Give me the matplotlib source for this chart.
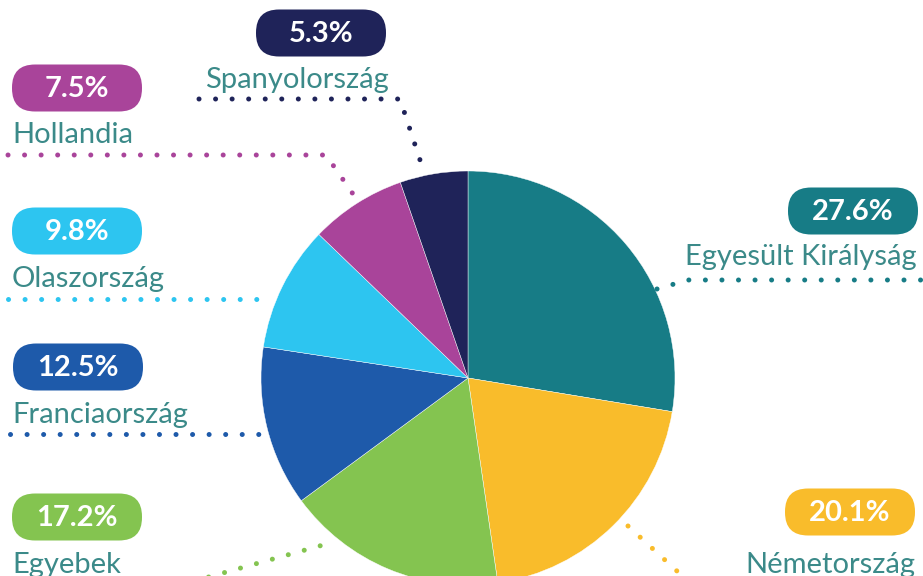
import matplotlib.pyplot as plt
from matplotlib.patches import FancyBboxPatch

# data
countries = ["Egyesült Királyság", "Németország", "Egyebek", "Franciaország",
             "Olaszország", "Hollandia", "Spanyolország"]
shares = [27.6, 20.1, 17.2, 12.5, 9.8, 7.5, 5.3]
colors = ["#177C86", "#F9BC2B", "#84C450", "#1E5AAA", "#2DC5F0", "#A9449A", "#1F2359"]

TEXT_COL = "#3B8A89"
W, H = 923, 576

# layout, in pixels from the top-left corner
# pill centre, label anchor (x, baseline), label alignment, leader path
layout = {
    "Egyesült Királyság": ((853, 211), (917, 265), "right",
                           [(657, 289), (688, 280), (921, 280)]),
    "Németország": ((850, 512), (915, 573), "right",
                    [(628, 526), (678, 572)]),
    "Egyebek": ((77, 517), (12, 573), "left",
                [(205, 578), (323, 545)]),
    "Franciaország": ((78, 367), (12, 423), "left",
                      [(10, 434), (262, 434)]),
    "Olaszország": ((77, 231), (12, 287), "left",
                    [(8, 299), (261, 299)]),
    "Hollandia": ((77, 88), (12, 143), "left",
                  [(8, 155), (326, 155), (353, 194)]),
    "Spanyolország": ((321, 33), (205, 88), "left",
                      [(199, 99), (400, 99), (421, 163)]),
}


def flip(y):
    return H - y


fig = plt.figure(figsize=(W / 100, H / 100), dpi=100)
ax = fig.add_axes([0, 0, 1, 1])

ax.pie(shares, colors=colors, startangle=90, counterclock=False,
       center=(468, flip(378)), radius=207,
       wedgeprops=dict(edgecolor="white", linewidth=0.3))

ax.set_xlim(0, W)
ax.set_ylim(0, H)
ax.set_aspect("auto")
ax.axis("off")

pill_w, pill_h = 130, 47
for name, share, col in zip(countries, shares, colors):
    (px, py), (lx, ly), ha, path = layout[name]

    # dotted leader line
    xs = [p[0] for p in path]
    ys = [flip(p[1]) for p in path]
    ax.plot(xs, ys, color=col, lw=3.6, linestyle=(0, (0.01, 3.3)),
            dash_capstyle="round", solid_capstyle="round", zorder=1)

    # rounded percent pill
    pill = FancyBboxPatch((px - pill_w / 2, flip(py) - pill_h / 2), pill_w, pill_h,
                          boxstyle="round,pad=0,rounding_size=23",
                          fc=col, ec="none", zorder=3)
    ax.add_patch(pill)
    ax.text(px, flip(py) - 1, f"{share:.1f}%", color="white", fontsize=21,
            fontweight="bold", family="Lato", ha="center", va="center", zorder=4)

    ax.text(lx, flip(ly), name, color=TEXT_COL, fontsize=21, family="Lato",
            ha=ha, va="baseline", zorder=4)

fig.savefig("out.png", dpi=100, facecolor="white")
